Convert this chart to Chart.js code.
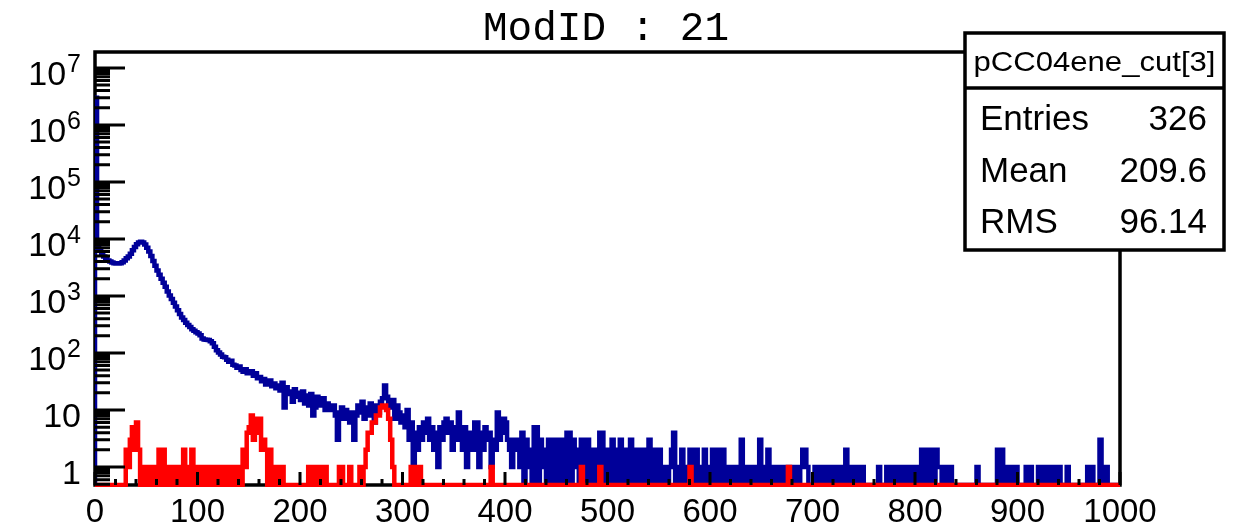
<!DOCTYPE html>
<html>
<head>
<meta charset="utf-8">
<title>ModID : 21</title>
<script src="https://cdn.jsdelivr.net/npm/chart.js@4.4.1/dist/chart.umd.min.js"></script>
<style>
  html, body { margin: 0; padding: 0; background: #fff; }
  canvas { display: block; }
</style>
</head>
<body>
<canvas id="hist" width="1247" height="525"></canvas>
<script>
// histogram: 500 bins of width 2 between 0 and 1000, log y
const BIN_WIDTH = 2;
const X_MIN = 0;
const X_MAX = 1000;
const Y_MIN = 0.483;
const Y_MAX = 1.9e7;

const titleText = 'ModID : 21';
const statsTitle = 'pCC04ene_cut[3]';
const statsLabels = ['Entries', 'Mean', 'RMS'];
const statsValues = ['326', '209.6', '96.14'];

const xTickStep = 100;
const xMinorStep = 20;
const yTickValues = [1, 10, 1e2, 1e3, 1e4, 1e5, 1e6, 1e7];
const yTickBases = ['1', '10', '10', '10', '10', '10', '10', '10'];
const yTickExps = ['', '', '2', '3', '4', '5', '6', '7'];

// all hits (blue), counts per bin
const blue0_100 = [3000000, 9000, 6500, 5500, 4900, 4500, 4200, 4000, 3850, 3750,
  3700, 3700, 3750, 3900, 4200, 4600, 4900, 5500, 6300, 7200,
  8100, 8700, 8900, 8700, 8000, 7000, 6000, 5000, 4100, 3400,
  2800, 2350, 2000, 1700, 1450, 1200, 1020, 880, 760, 650,
  560, 480, 420, 380, 340, 310, 285, 260, 245, 230];
const blue100_200 = [220, 205, 180, 172, 170, 168, 160, 148, 128, 112,
  102, 94, 86, 84, 76, 70, 73, 62, 60, 55,
  58, 50, 47, 52, 44, 45, 48, 40, 44, 36,
  38, 32, 35, 28, 30, 33, 26, 29, 24, 27,
  22, 30, 11, 25, 19, 21, 14, 23, 17, 20];
const blue200_300 = [15, 21, 13, 18, 12, 19, 8, 11, 17, 14,
  12, 16, 10, 13, 11, 10, 12, 8, 3, 9,
  11, 7, 10, 8, 6, 9, 3, 8, 12, 9,
  14, 7, 11, 8, 13, 10, 6, 12, 9, 14,
  16, 27, 17, 14, 11, 15, 7, 12, 9, 6];
const blue300_400 = [8, 5, 10, 3, 6, 1, 4, 2, 5, 3,
  6, 4, 7, 3, 5, 2, 4, 1, 5, 3,
  6, 7, 4, 6, 2, 5, 3, 9, 4, 2,
  5, 1, 3, 4, 2, 6, 6, 1, 4, 2,
  5, 3, 4, 1, 3, 2, 9, 3, 4, 7];
const blue400_500 = [6, 3, 2, 1, 3, 2, 3, 1, 4, 0,
  3, 1, 2, 0, 5, 5, 0, 3, 1, 2,
  0, 3, 1, 0, 3, 2, 0, 3, 1, 0,
  4, 4, 0, 3, 1, 2, 0, 3, 1, 0,
  3, 2, 0, 1, 2, 0, 4, 4, 0, 2];
const blue500_600 = [2, 0, 3, 1, 0, 2, 3, 0, 1, 2,
  0, 3, 1, 0, 2, 1, 0, 2, 0, 1,
  3, 0, 1, 2, 0, 2, 1, 0, 1, 0,
  1, 2, 4, 0, 1, 0, 2, 1, 0, 1,
  2, 0, 1, 2, 0, 1, 0, 2, 1, 0];
const blue600_700 = [1, 2, 0, 2, 2, 0, 2, 0, 1, 0,
  1, 0, 1, 0, 1, 3, 0, 1, 0, 1,
  0, 1, 1, 0, 3, 1, 0, 1, 2, 0,
  1, 0, 1, 0, 1, 0, 1, 0, 1, 0,
  1, 0, 1, 0, 1, 2, 2, 1, 0, 0];
const blue700_800 = [0, 1, 0, 0, 1, 0, 1, 0, 1, 0,
  1, 0, 1, 1, 0, 1, 2, 0, 1, 0,
  1, 0, 1, 0, 1, 0, 0, 0, 0, 0,
  0, 0, 1, 0, 0, 0, 1, 0, 1, 0,
  1, 0, 1, 0, 1, 0, 1, 0, 1, 0];
const blue800_900 = [1, 0, 0, 2, 0, 2, 1, 0, 2, 0,
  2, 1, 1, 0, 0, 1, 0, 1, 0, 0,
  0, 0, 0, 0, 0, 0, 0, 0, 0, 0,
  1, 0, 0, 0, 0, 0, 0, 0, 0, 0,
  2, 0, 2, 1, 0, 1, 0, 1, 0, 1];
const blue900_1000 = [0, 0, 0, 0, 1, 0, 1, 0, 0, 0,
  1, 0, 1, 0, 1, 0, 1, 0, 1, 0,
  1, 0, 0, 0, 1, 0, 0, 0, 0, 0,
  0, 0, 0, 0, 1, 0, 1, 0, 0, 0,
  3, 0, 0, 1, 0, 0, 0, 0, 0, 0];

// after cut (red)
const red0_100 = [0, 0, 0, 0, 0, 0, 0, 0, 0, 0,
  0, 0, 0, 0, 0, 2, 1, 3, 5, 2,
  6, 2, 0, 1, 1, 0, 1, 0, 1, 0,
  1, 2, 0, 2, 0, 1, 0, 1, 0, 1,
  0, 1, 0, 2, 0, 1, 0, 2, 0, 1];
const red100_200 = [0, 1, 0, 1, 0, 1, 0, 1, 0, 1,
  0, 1, 1, 0, 1, 0, 1, 0, 1, 0,
  1, 0, 2, 1, 4, 5, 8, 3, 7, 4,
  7, 2, 3, 2, 0, 2, 1, 0, 1, 0,
  1, 1, 0, 0, 0, 0, 0, 0, 0, 0];
const red200_300 = [0, 0, 0, 0, 1, 0, 1, 0, 1, 0,
  1, 0, 1, 0, 0, 0, 0, 0, 0, 1,
  1, 0, 0, 0, 1, 0, 0, 0, 0, 1,
  0, 1, 2, 4, 4, 6, 6, 8, 8, 11,
  12, 12, 10, 7, 3, 1, 0, 0, 0, 0];
// single hits above 300 (bin index, count)
const redTailBins = [154, 157, 158, 193, 237, 246, 290, 338];
const redTailCounts = [1, 1, 1, 1, 1, 1, 1, 1];

const FONT = '"Liberation Sans", Arial, Helvetica, sans-serif';
const MONO = '"Liberation Mono", "Courier New", monospace';

const blueCounts = [].concat(blue0_100, blue100_200, blue200_300, blue300_400, blue400_500,
  blue500_600, blue600_700, blue700_800, blue800_900, blue900_1000);
const redCounts = [].concat(red0_100, red100_200, red200_300);
while (redCounts.length < blueCounts.length) redCounts.push(0); // empty bins
redTailBins.forEach((b, i) => { redCounts[b] = redTailCounts[i]; });

// bin left edges -> step points, empty bins sit on the frame bottom
const toSteps = (counts) => {
  const lvl = (c) => (c > 0 ? c : Y_MIN);
  const pts = [{ x: X_MIN, y: Y_MIN }];
  counts.forEach((c, i) => pts.push({ x: X_MIN + i * BIN_WIDTH, y: lvl(c) }));
  const end = X_MIN + counts.length * BIN_WIDTH;
  pts.push({ x: end, y: lvl(counts[counts.length - 1]) });
  pts.push({ x: end, y: Y_MIN });
  return pts;
};

const rootStyle = {
  id: 'rootStyle',
  beforeDatasetsDraw(chart) {
    const { ctx, chartArea: a } = chart;
    ctx.save();
    ctx.strokeStyle = '#000';
    ctx.lineWidth = 3.5;
    ctx.strokeRect(a.left, a.top, a.right - a.left, a.bottom - a.top);
    ctx.restore();
  },
  afterDatasetsDraw(chart) {
    const { ctx, chartArea: a, scales: { x, y } } = chart;
    ctx.save();
    ctx.strokeStyle = '#000';
    ctx.lineWidth = 3;
    ctx.beginPath();
    // x ticks point up into the frame
    for (let v = X_MIN; v <= X_MAX; v += xMinorStep) {
      const px = x.getPixelForValue(v);
      const len = v % xTickStep === 0 ? 13 : 6;
      ctx.moveTo(px, a.bottom);
      ctx.lineTo(px, a.bottom - len);
    }
    // y log ticks: decades long, 2..9 short
    for (let e = -1; e <= 7; e++) {
      for (let k = 1; k <= 9; k++) {
        const v = k * Math.pow(10, e);
        if (v < Y_MIN || v > Y_MAX) continue;
        const py = y.getPixelForValue(v);
        ctx.moveTo(a.left, py);
        ctx.lineTo(a.left + (k === 1 ? 30 : 15), py);
      }
    }
    ctx.stroke();

    // y labels with exponents
    ctx.fillStyle = '#000';
    ctx.textBaseline = 'alphabetic';
    ctx.textAlign = 'left';
    const right = 81;
    yTickValues.forEach((v, i) => {
      const py = y.getPixelForValue(v);
      const base = yTickBases[i];
      const exp = yTickExps[i];
      ctx.font = `25px ${FONT}`;
      const we = exp ? ctx.measureText(exp).width + 1 : 0;
      ctx.font = `34px ${FONT}`;
      const wb = ctx.measureText(base).width;
      ctx.fillText(base, right - we - wb, py + 17);
      if (exp) {
        ctx.font = `25px ${FONT}`;
        ctx.fillText(exp, right - we + 1, py + 4);
      }
    });
    ctx.restore();
  },
  afterDraw(chart) {
    const { ctx } = chart;
    ctx.save();
    ctx.fillStyle = '#000';

    // title
    ctx.font = `41px ${MONO}`;
    ctx.textAlign = 'center';
    ctx.textBaseline = 'alphabetic';
    ctx.fillText(titleText, 606, 40);

    // stats box
    const bx = 965, by = 33, bw = 259, bh = 217, sep = 88;
    ctx.fillStyle = '#fff';
    ctx.fillRect(bx, by, bw, bh);
    ctx.strokeStyle = '#000';
    ctx.lineWidth = 3.5;
    ctx.strokeRect(bx, by, bw, bh);
    ctx.beginPath();
    ctx.moveTo(bx, sep);
    ctx.lineTo(bx + bw, sep);
    ctx.stroke();

    ctx.fillStyle = '#000';
    ctx.font = `28px ${FONT}`;
    const tw = ctx.measureText(statsTitle).width;
    const sx = 242 / tw;
    ctx.save();
    ctx.translate(bx + bw / 2, 71);
    ctx.scale(sx, 1);
    ctx.textAlign = 'center';
    ctx.fillText(statsTitle, 0, 0);
    ctx.restore();

    ctx.font = `35px ${FONT}`;
    const rows = [130, 182, 233];
    statsLabels.forEach((lab, i) => {
      ctx.textAlign = 'left';
      ctx.fillText(lab, 980, rows[i]);
      ctx.textAlign = 'right';
      ctx.fillText(statsValues[i], 1207, rows[i]);
    });
    ctx.restore();
  },
};

const lineStyle = {
  borderWidth: 4.5,
  stepped: 'before',
  pointRadius: 0,
  pointHoverRadius: 0,
  fill: false,
  tension: 0,
  borderJoinStyle: 'miter',
  borderCapStyle: 'butt',
  clip: { left: 0, top: 0, right: 0, bottom: 2 },
};

new Chart(document.getElementById('hist'), {
  type: 'line',
  data: {
    datasets: [
      { label: 'cut', data: toSteps(redCounts), borderColor: '#ff0000', order: 0, ...lineStyle },
      { label: 'all', data: toSteps(blueCounts), borderColor: '#000099', order: 1, ...lineStyle },
    ],
  },
  options: {
    responsive: false,
    animation: false,
    devicePixelRatio: 1,
    layout: { padding: { left: 95, right: 127, top: 52, bottom: 0 } },
    plugins: {
      legend: { display: false },
      tooltip: { enabled: false },
      title: { display: false },
    },
    scales: {
      x: {
        type: 'linear',
        min: X_MIN,
        max: X_MAX,
        grid: { display: false },
        border: { display: false },
        ticks: {
          stepSize: xTickStep,
          autoSkip: false,
          maxRotation: 0,
          padding: 0,
          color: '#000',
          font: { family: FONT, size: 33 },
          callback: (v) => String(v),
        },
        afterFit: (scale) => { scale.height = 40; },
      },
      y: {
        type: 'logarithmic',
        min: Y_MIN,
        max: Y_MAX,
        display: false,
      },
    },
  },
  plugins: [rootStyle],
});
</script>
</body>
</html>
